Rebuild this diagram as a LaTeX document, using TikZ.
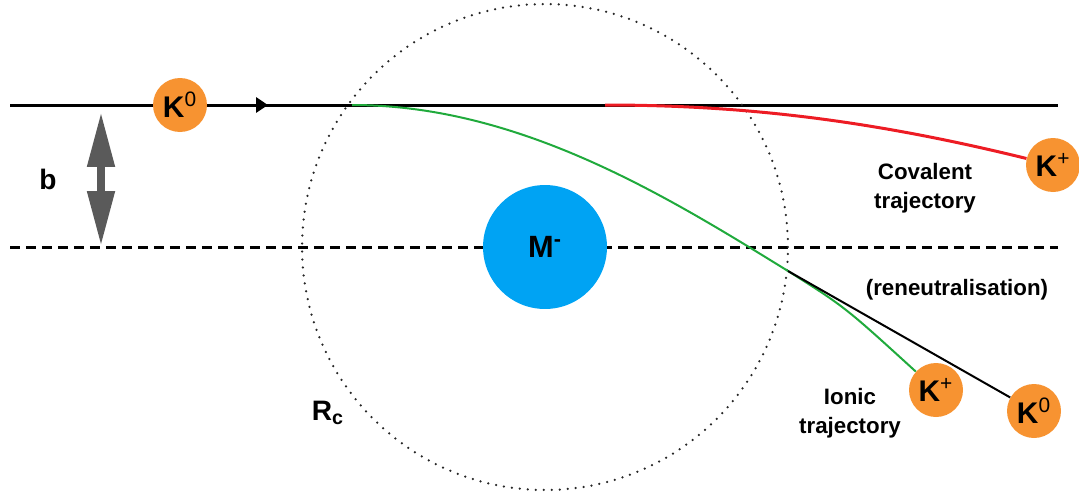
\documentclass[tikz,border=0pt]{standalone}
\usepackage{fontspec}
\setmainfont{Liberation Sans}
\usepackage{tikz}
\usetikzlibrary{arrows.meta}
\definecolor{KOrange}{RGB}{247,147,49}
\definecolor{MBlue}{RGB}{0,163,243}
\definecolor{TrajRed}{RGB}{237,28,36}
\definecolor{TrajGreen}{RGB}{32,170,60}
\definecolor{ArrowGrey}{RGB}{90,90,90}

\begin{document}
\begin{tikzpicture}[x=0.02cm, y=-0.02cm,
      atom/.style={circle, fill=KOrange, minimum size=1.08cm, inner sep=0pt,
                   font=\fontsize{17}{20}\selectfont\bfseries},
      lbl/.style={font=\fontsize{12.7}{16.5}\selectfont\bfseries, align=center},
      sym/.style={font=\fontsize{16}{19}\selectfont\bfseries},
      axis/.style={line width=0.06cm},
      traj/.style={line width=0.04cm}
    ]
    \useasboundingbox (0,0) rectangle (1079,498);

    % Reference lines
    \coordinate (topL) at (10,105);
    \coordinate (topR) at (1058,105);
    \coordinate (midL) at (10,247);
    \coordinate (midR) at (1058,247);
    \draw[axis, dash pattern=on 0.2cm off 0.12cm] (midL) -- (midR);
    \draw[axis] (topL) -- (topR);

    % Capture radius
    \node[circle, draw=black!85, line width=0.05cm, line cap=round,
          dash pattern=on 0pt off 0.16cm, minimum size=9.72cm, inner sep=0pt]
        (capt) at (545,247) {};

    % Particles
    \node[atom] (K0in)  at (180,105)  {K\textsuperscript{\mdseries 0}};
    \node[circle, fill=MBlue, minimum size=2.48cm, inner sep=0pt,
          font=\fontsize{17.5}{20}\selectfont\bfseries] (M) at (545,247) {M\textsuperscript{-}};
    \node[atom] (Kcov)  at (1053,165) {K\textsuperscript{\mdseries +}};
    \node[atom] (Kion)  at (936,390)  {K\textsuperscript{\mdseries +}};
    \node[atom] (K0out) at (1034,411) {K\textsuperscript{\mdseries 0}};

    % Trajectories
    \coordinate (arrTip)   at (268,105);
    \coordinate (cIn)      at (352,105);
    \coordinate (cOut)     at (788,271);
    \coordinate (covStart) at (605,105);
    \draw[axis, -{Triangle[length=0.24cm, width=0.3cm]}] (K0in.east) -- (arrTip);
    \draw[traj, TrajGreen] (cIn) .. controls (520,105) and (668,197) .. (cOut)
        .. controls (845,307) .. (Kion);
    \draw[traj, black] (cOut) -- (K0out);
    \draw[axis, TrajRed] (covStart) .. controls (750,105) and (878,122) .. (Kcov);

    % Impact parameter
    \coordinate (bTop) at (101,112);
    \coordinate (bBot) at (101,246);
    \draw[line width=0.16cm, ArrowGrey,
          {Triangle[length=1.1cm, width=0.52cm]}-{Triangle[length=1.1cm, width=0.52cm]}]
        (bTop) -- (bBot);

    % Labels
    \node[sym] (bLbl)      at (48,179)  {b};
    \node[sym] (rcLbl)     at (328,413) {R\textsubscript{c}};
    \node[lbl] (covLbl)    at (925,188) {Covalent\\trajectory};
    \node[lbl] (reneutLbl) at (957,290) {(reneutralisation)};
    \node[lbl] (ionLbl)    at (850,413) {Ionic\\trajectory};
  \end{tikzpicture}
\end{document}
